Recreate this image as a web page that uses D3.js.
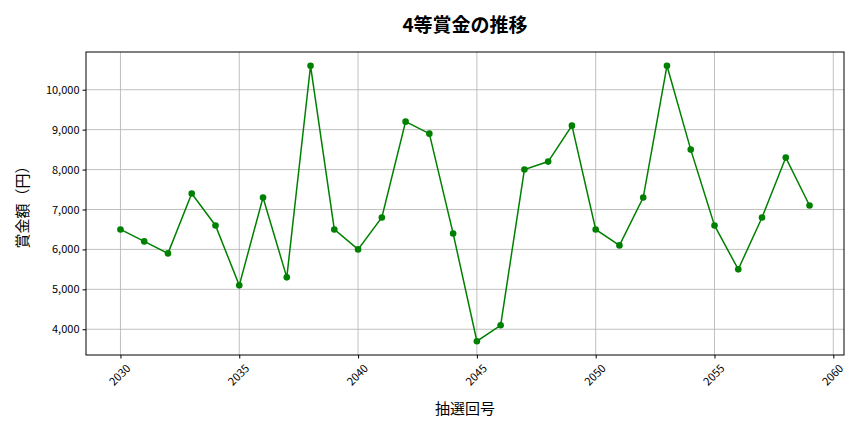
<!DOCTYPE html>
<html lang="ja">
<head>
<meta charset="utf-8">
<title>4等賞金の推移</title>
<script src="https://cdn.jsdelivr.net/npm/d3@7"></script>
<style>
    body { margin: 0; background: #fff; }
    svg { font-family: "Noto Sans CJK JP", "DejaVu Sans", sans-serif; }
    .grid line { stroke: #b0b0b0; stroke-width: 0.8px; }
    .axis text { font-size: 11px; fill: #000; font-family: "Noto Sans CJK JP", "DejaVu Sans", sans-serif; }
    .axis path, .axis line { stroke: #000; }
</style>
</head>
<body>
<script>
    // 抽選回号
    var draws = [2030, 2031, 2032, 2033, 2034, 2035, 2036, 2037, 2038, 2039,
        2040, 2041, 2042, 2043, 2044, 2045, 2046, 2047, 2048, 2049,
        2050, 2051, 2052, 2053, 2054, 2055, 2056, 2057, 2058, 2059];
    // 賞金額（円）
    var prizes = [6500, 6200, 5900, 7400, 6600, 5100, 7300, 5300, 10600, 6500,
        6000, 6800, 9200, 8900, 6400, 3700, 4100, 8000, 8200, 9100,
        6500, 6100, 7300, 10600, 8500, 6600, 5500, 6800, 8300, 7100];
    var xTicks = [2030, 2035, 2040, 2045, 2050, 2055, 2060];
    var yTicks = [4000, 5000, 6000, 7000, 8000, 9000, 10000];

    var W = 864, H = 432;
    var margin = {left: 86, right: 20, top: 52, bottom: 77};
    var iw = W - margin.left - margin.right,
        ih = H - margin.top - margin.bottom;

    var svg = d3.select('body').append('svg')
        .attr('width', W).attr('height', H);

    var xPad = (d3.max(draws) - d3.min(draws)) * 0.05;
    var x = d3.scaleLinear()
        .domain([d3.min(draws) - xPad, d3.max(draws) + xPad])
        .range([0, iw]);
    var yPad = (d3.max(prizes) - d3.min(prizes)) * 0.05;
    var y = d3.scaleLinear()
        .domain([d3.min(prizes) - yPad, d3.max(prizes) + yPad])
        .range([ih, 0]);

    var g = svg.append('g')
        .attr('transform', 'translate(' + margin.left + ',' + margin.top + ')');

    // grid
    g.append('g').attr('class', 'grid')
        .selectAll('line.v').data(xTicks).enter().append('line')
        .attr('x1', function (d) { return x(d); })
        .attr('x2', function (d) { return x(d); })
        .attr('y1', 0).attr('y2', ih);
    g.append('g').attr('class', 'grid')
        .selectAll('line.h').data(yTicks).enter().append('line')
        .attr('y1', function (d) { return y(d); })
        .attr('y2', function (d) { return y(d); })
        .attr('x1', 0).attr('x2', iw);

    // axes
    var xAxis = g.append('g').attr('class', 'axis')
        .attr('transform', 'translate(0,' + ih + ')')
        .call(d3.axisBottom(x).tickValues(xTicks).tickFormat(d3.format('d')).tickSize(3.5).tickPadding(3));
    xAxis.select('.domain').remove();
    xAxis.selectAll('text')
        .style('text-anchor', 'middle')
        .attr('y', 0)
        .attr('dy', '0.35em')
        .attr('transform', 'translate(-1,20) rotate(-45)');

    var yAxis = g.append('g').attr('class', 'axis')
        .call(d3.axisLeft(y).tickValues(yTicks).tickFormat(d3.format(',')).tickSize(3.5).tickPadding(3));
    yAxis.select('.domain').remove();

    // frame
    g.append('rect')
        .attr('width', iw).attr('height', ih)
        .attr('fill', 'none').attr('stroke', '#000').attr('stroke-width', 1);

    // line
    var line = d3.line()
        .x(function (d, i) { return x(draws[i]); })
        .y(function (d) { return y(d); });
    g.append('path')
        .datum(prizes)
        .attr('d', line)
        .attr('fill', 'none')
        .attr('stroke', 'green')
        .attr('stroke-width', 1.5);

    g.selectAll('circle').data(prizes).enter().append('circle')
        .attr('cx', function (d, i) { return x(draws[i]); })
        .attr('cy', function (d) { return y(d); })
        .attr('r', 3.3)
        .attr('fill', 'green');

    // labels
    svg.append('text')
        .attr('x', margin.left + iw / 2).attr('y', 32)
        .attr('text-anchor', 'middle')
        .style('font-size', '19px').style('font-weight', 'bold')
        .text('4等賞金の推移');

    svg.append('text')
        .attr('x', margin.left + iw / 2).attr('y', 414)
        .attr('text-anchor', 'middle')
        .style('font-size', '15px')
        .text('抽選回号');

    svg.append('text')
        .attr('transform', 'translate(28,' + (margin.top + ih / 2) + ') rotate(-90)')
        .attr('text-anchor', 'middle')
        .style('font-size', '15px')
        .text('賞金額（円）');
</script>
</body>
</html>
